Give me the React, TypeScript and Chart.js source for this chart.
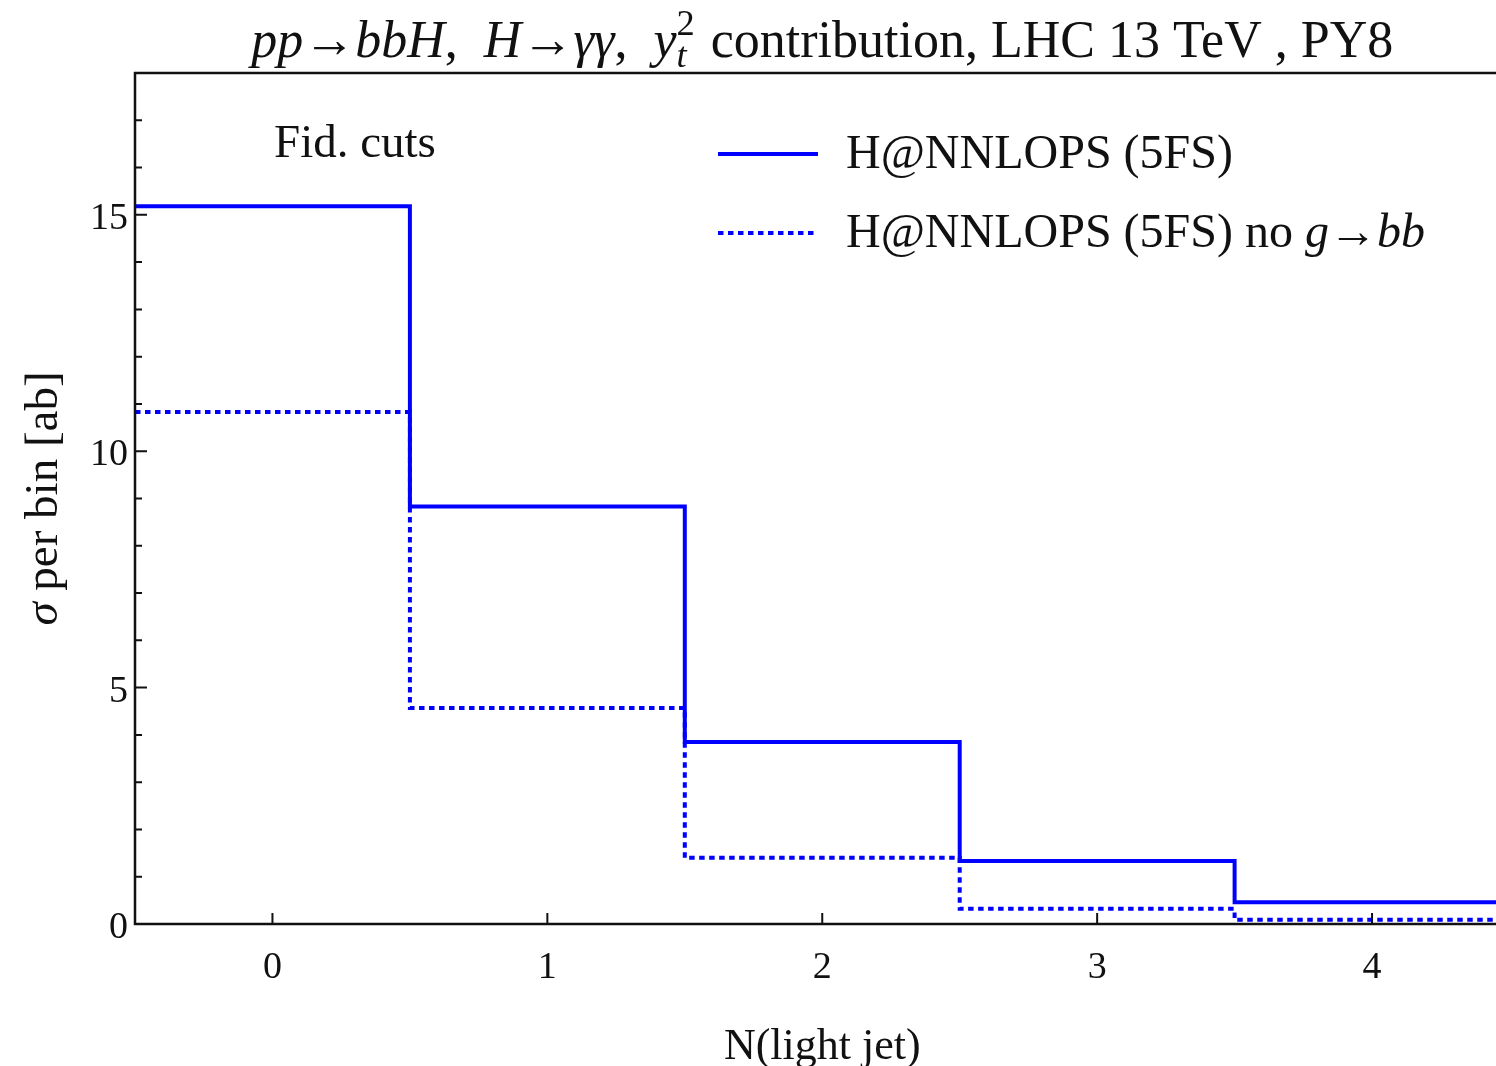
import React, { useEffect, useRef } from "react";
import { Chart, registerables } from "chart.js";

Chart.register(...registerables);

// ---- data ----
const nJets = [0, 1, 2, 3, 4];
const nnlops5fs = [15.18, 8.83, 3.85, 1.33, 0.46];
const nnlops5fsNoGbb = [10.83, 4.57, 1.4, 0.32, 0.09];
const xTickValues = [0, 1, 2, 3, 4];
const yMajorTicks = [0, 5, 10, 15];
const yMinorTicks = [1, 2, 3, 4, 6, 7, 8, 9, 11, 12, 13, 14, 16, 17];
const yMin = 0;
const yMax = 18;
const seriesLabels = ["H@NNLOPS (5FS)", "H@NNLOPS (5FS) no g→bb"];

const SERIF = '"Liberation Serif", "Times New Roman", serif';
const BLUE = "#0000ff";
const INK = "#111111";

type Seg = { t: string; it?: boolean; sup?: string; sub?: string };

function fnt(size: number, it?: boolean) {
  return `${it ? "italic " : ""}${size}px ${SERIF}`;
}

function segWidth(ctx: CanvasRenderingContext2D, s: Seg, size: number) {
  if (s.sup !== undefined || s.sub !== undefined) {
    ctx.font = fnt(size * 0.7, false);
    const a = s.sup ? ctx.measureText(s.sup).width : 0;
    ctx.font = fnt(size * 0.7, true);
    const b = s.sub ? ctx.measureText(s.sub).width : 0;
    return Math.max(a, b) + size * 0.06;
  }
  ctx.font = fnt(size, s.it);
  return ctx.measureText(s.t).width;
}

function drawRich(
  ctx: CanvasRenderingContext2D,
  segs: Seg[],
  x: number,
  y: number,
  size: number,
  align: "left" | "center"
) {
  const ws = segs.map((s) => segWidth(ctx, s, size));
  const total = ws.reduce((a, b) => a + b, 0);
  let cx = align === "center" ? x - total / 2 : x;
  ctx.textAlign = "left";
  ctx.textBaseline = "alphabetic";
  ctx.fillStyle = INK;
  segs.forEach((s, i) => {
    if (s.sup !== undefined || s.sub !== undefined) {
      if (s.sup) {
        ctx.font = fnt(size * 0.7, false);
        ctx.fillText(s.sup, cx, y - size * 0.42);
      }
      if (s.sub) {
        ctx.font = fnt(size * 0.7, true);
        ctx.fillText(s.sub, cx, y + size * 0.2);
      }
    } else {
      ctx.font = fnt(size, s.it);
      ctx.fillText(s.t, cx, y);
    }
    cx += ws[i];
  });
}

function toSteps(vals: number[]) {
  const pts = nJets.map((c, i) => ({ x: c - 0.5, y: vals[i] }));
  pts.push({ x: nJets[nJets.length - 1] + 0.5, y: vals[vals.length - 1] });
  return pts;
}

const titleSegs: Seg[] = [
  { t: "pp", it: true },
  { t: "→" },
  { t: "bbH", it: true },
  { t: ",  " },
  { t: "H", it: true },
  { t: "→" },
  { t: "γγ", it: true },
  { t: ",  " },
  { t: "y", it: true },
  { t: "", sup: "2", sub: "t" },
  { t: " contribution, LHC 13 TeV , PY8" },
];

const legend2Segs: Seg[] = [
  { t: "H@NNLOPS (5FS) no " },
  { t: "g", it: true },
  { t: "→" },
  { t: "bb", it: true },
];

const decorPlugin = {
  id: "decor",
  afterDraw(chart: any) {
    const ctx: CanvasRenderingContext2D = chart.ctx;
    const { left, right, top, bottom } = chart.chartArea;
    const xs = chart.scales.x;
    const ys = chart.scales.y;
    ctx.save();

    // frame
    ctx.strokeStyle = INK;
    ctx.lineWidth = 2.5;
    ctx.beginPath();
    ctx.moveTo(left, top);
    ctx.lineTo(right, top);
    ctx.lineTo(right, bottom);
    ctx.lineTo(left, bottom);
    ctx.closePath();
    ctx.stroke();

    // ticks (inward)
    ctx.lineWidth = 2;
    ctx.beginPath();
    yMajorTicks.forEach((v) => {
      const py = ys.getPixelForValue(v);
      ctx.moveTo(left, py);
      ctx.lineTo(left + 12, py);
    });
    yMinorTicks.forEach((v) => {
      const py = ys.getPixelForValue(v);
      ctx.moveTo(left, py);
      ctx.lineTo(left + 7, py);
    });
    xTickValues.forEach((v) => {
      const px = xs.getPixelForValue(v);
      ctx.moveTo(px, bottom);
      ctx.lineTo(px, bottom - 11);
    });
    ctx.stroke();

    // title
    drawRich(ctx, titleSegs, (left + right) / 2, 57, 52, "center");

    // x axis label
    drawRich(ctx, [{ t: "N(light jet)" }], (left + right) / 2, 1059, 44, "center");

    // y axis label
    ctx.save();
    ctx.translate(57, (top + bottom) / 2);
    ctx.rotate(-Math.PI / 2);
    drawRich(ctx, [{ t: "σ", it: true }, { t: " per bin [ab]" }], 0, 0, 47, "center");
    ctx.restore();

    // annotation
    drawRich(ctx, [{ t: "Fid. cuts" }], 274, 157, 47, "left");

    // legend
    const ds = chart.data.datasets;
    const rows = [
      { y: 154, text: [{ t: seriesLabels[0] }] as Seg[], ds: ds[0] },
      { y: 233, text: legend2Segs, ds: ds[1] },
    ];
    rows.forEach((r) => {
      ctx.save();
      ctx.strokeStyle = r.ds.borderColor;
      ctx.lineWidth = r.ds.borderWidth;
      ctx.setLineDash(r.ds.borderDash || []);
      ctx.beginPath();
      ctx.moveTo(718, r.y);
      ctx.lineTo(818, r.y);
      ctx.stroke();
      ctx.restore();
      drawRich(ctx, r.text, 846, r.y + 14, 48, "left");
    });

    ctx.restore();
  },
};

export default function App() {
  const ref = useRef<HTMLCanvasElement | null>(null);

  useEffect(() => {
    if (!ref.current) return;
    const chart = new Chart(ref.current, {
      type: "line",
      data: {
        datasets: [
          {
            label: seriesLabels[0],
            data: toSteps(nnlops5fs),
            borderColor: BLUE,
            borderWidth: 4,
            stepped: "before",
            pointRadius: 0,
            fill: false,
          },
          {
            label: seriesLabels[1],
            data: toSteps(nnlops5fsNoGbb),
            borderColor: BLUE,
            borderWidth: 4,
            borderDash: [5.5, 4.5],
            stepped: "before",
            pointRadius: 0,
            fill: false,
          },
        ],
      },
      options: {
        animation: false,
        responsive: false,
        devicePixelRatio: 1,
        layout: { padding: { top: 73, right: 10.5, left: 0, bottom: 0 } },
        plugins: {
          legend: { display: false },
          tooltip: { enabled: false },
          title: { display: false },
        },
        scales: {
          x: {
            type: "linear",
            min: nJets[0] - 0.5,
            max: nJets[nJets.length - 1] + 0.5,
            grid: { display: false, drawTicks: false },
            border: { display: false },
            afterBuildTicks: (s: any) => {
              s.ticks = xTickValues.map((v) => ({ value: v }));
            },
            afterFit: (s: any) => {
              s.height = 142;
            },
            ticks: {
              color: INK,
              font: { family: SERIF, size: 38 },
              padding: 21,
              maxRotation: 0,
              callback: (v: any) => String(v),
            },
          },
          y: {
            type: "linear",
            min: yMin,
            max: yMax,
            grid: { display: false, drawTicks: false },
            border: { display: false },
            afterBuildTicks: (s: any) => {
              s.ticks = yMajorTicks.map((v) => ({ value: v }));
            },
            afterFit: (s: any) => {
              s.width = 135;
            },
            ticks: {
              color: INK,
              font: { family: SERIF, size: 38 },
              padding: 7,
              labelOffset: 4,
              callback: (v: any) => String(v),
            },
          },
        },
      },
      plugins: [decorPlugin],
    });
    return () => chart.destroy();
  }, []);

  return (
    <div
      style={{
        position: "absolute",
        left: 0,
        top: 0,
        width: 1496,
        height: 1066,
        overflow: "hidden",
        background: "#fff",
      }}
    >
      <canvas ref={ref} width={1520} height={1066} style={{ display: "block" }} />
    </div>
  );
}
